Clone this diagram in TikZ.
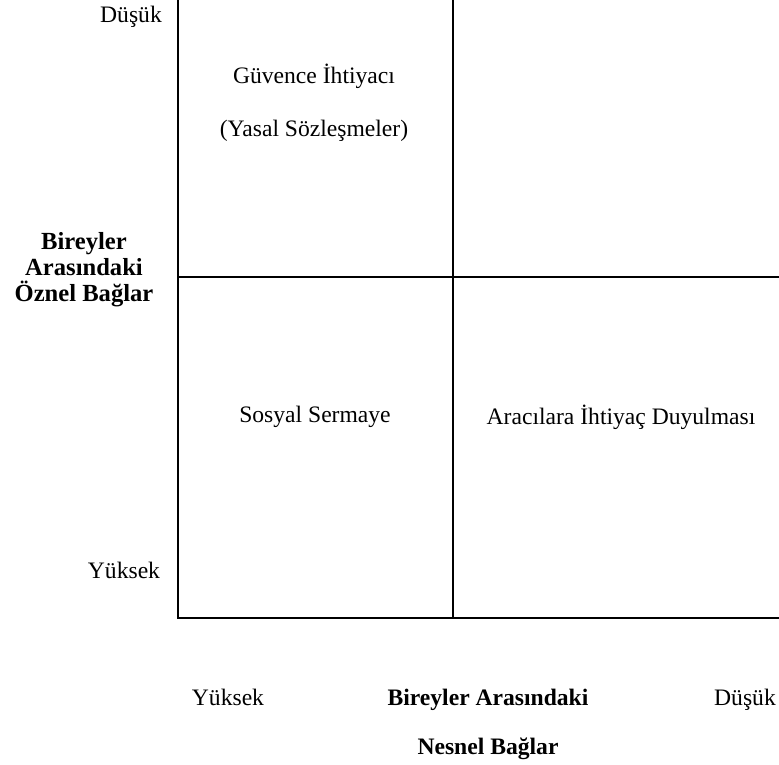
\documentclass[tikz,border=0pt]{standalone}
\usepackage{fontspec}
\setmainfont{Liberation Serif}
\usepackage{tikz}

\tikzset{
    grid line/.style={line width=2pt},
    label txt/.style={font=\fontsize{23.6}{25.5}\selectfont, inner sep=0pt, anchor=base},
    axis txt/.style={label txt, font=\fontsize{23.6}{25.5}\selectfont\bfseries, align=center}
}

\begin{document}
\begin{tikzpicture}[x=1pt, y=-1pt]
    \useasboundingbox (0,0) rectangle (779,764);
    % grid corners
    \coordinate (TL) at (177.5, -2);
    \coordinate (TM) at (453, -2);
    \coordinate (ML) at (177.5, 277);
    \coordinate (MR) at (781, 277);
    \coordinate (BL) at (177.5, 618);
    \coordinate (BM) at (453, 618);
    \coordinate (BR) at (781, 618);
    \draw[grid line] (TL) -- (BL) -- (BR);
    \draw[grid line] (TM) -- (BM);
    \draw[grid line] (ML) -- (MR);
    % cell texts
    \node[label txt] (G1) at (314, 83) {Güvence İhtiyacı};
        \node[label txt] (G2) at (314, 136) {(Yasal Sözleşmeler)};
    \node[label txt] (S) at (315, 422) {Sosyal Sermaye};
    \node[label txt] (R) at (621, 424) {Aracılara İhtiyaç Duyulması};
    % vertical axis
    \node[label txt] (VL) at (131, 22) {Düşük};
    \node[label txt] (VH) at (124, 578) {Yüksek};
    \node[axis txt, anchor=center, font=\fontsize{24.6}{26}\selectfont\bfseries] (VT) at (84, 270) {Bireyler\\Arasındaki\\Öznel Bağlar};
    % horizontal axis
    \node[label txt] (HH) at (228, 705) {Yüksek};
    \node[axis txt] (HT) at (488, 705) {Bireyler Arasındaki};
        \node[axis txt] (HT2) at (488, 754) {Nesnel Bağlar};
    \node[label txt] (HL) at (745, 705) {Düşük};
\end{tikzpicture}
\end{document}
